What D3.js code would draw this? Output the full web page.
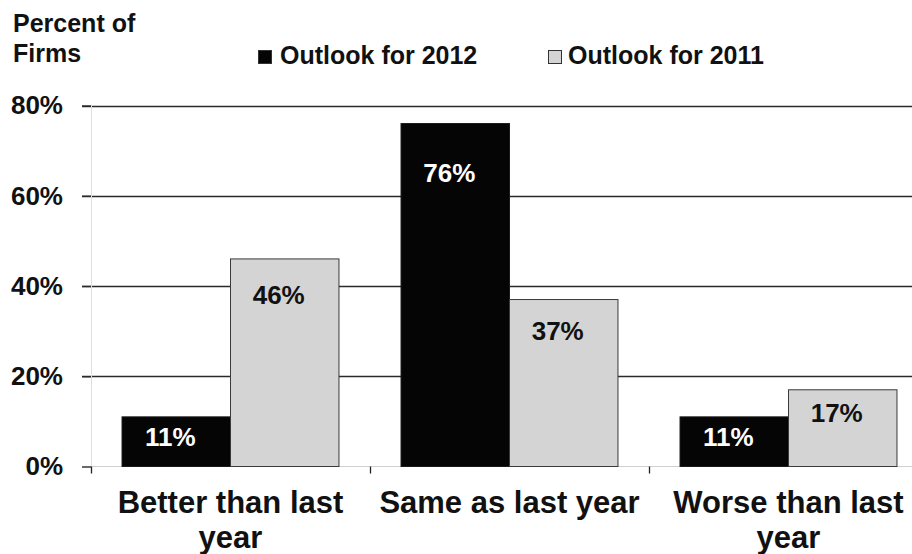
<!DOCTYPE html>
<html>
<head>
<meta charset="utf-8">
<script src="https://cdn.jsdelivr.net/npm/d3@7"></script>
<style>
  html, body { margin: 0; padding: 0; background: #fff; }
  svg { display: block; }
  text { font-family: "Liberation Sans", Arial, sans-serif; font-weight: bold; }
</style>
</head>
<body>
<script>
// ---- data ----
const categories = ["Better than last year", "Same as last year", "Worse than last year"];
const seriesNames = ["Outlook for 2012", "Outlook for 2011"];
const outlook2012 = [11, 76, 11];
const outlook2011 = [46, 37, 17];
const yTicks = [0, 20, 40, 60, 80];
const yAxisTitle = ["Percent of", "Firms"];
const seriesColors = ["#050505", "#d4d4d4"];

const W = 912, H = 554;
const svg = d3.select("body").append("svg").attr("width", W).attr("height", H);

const rows = categories.map((c, i) => ({ cat: c, values: [outlook2012[i], outlook2011[i]] }));

const y = d3.scaleLinear().domain([0, 80]).range([466.5, 105.5]);
const x0 = d3.scaleBand().domain(categories).range([91, 928]).paddingInner(0).paddingOuter(0);
const x1 = d3.scaleBand().domain(seriesNames).range([0, x0.bandwidth()]).paddingInner(0).paddingOuter(0.286);

// gridlines
svg.append("g").selectAll("line").data(yTicks.filter(d => d > 0)).join("line")
  .attr("x1", 82).attr("x2", W)
  .attr("y1", d => Math.round(y(d)) + 0.5).attr("y2", d => Math.round(y(d)) + 0.5)
  .attr("stroke", "#2a2a2a").attr("stroke-width", 1.4);

// y axis line
svg.append("line").attr("x1", 91.5).attr("x2", 91.5).attr("y1", y(80)).attr("y2", y(0))
  .attr("stroke", "#dedede").attr("stroke-width", 1);
// x axis line
svg.append("line").attr("x1", 91).attr("x2", W).attr("y1", y(0)).attr("y2", y(0))
  .attr("stroke", "#d0d0d0").attr("stroke-width", 1.2);

// y axis labels + ticks
const yAxis = d3.axisLeft(y).tickValues(yTicks).tickFormat(d => d + "%").tickSize(9).tickPadding(19);
const yg = svg.append("g").attr("transform", "translate(91,0)").call(yAxis);
yg.select(".domain").remove();
yg.selectAll(".tick line").attr("stroke", "#2a2a2a").attr("stroke-width", 1.4);
yg.selectAll(".tick text").attr("font-size", 26).attr("fill", "#111")
  .style("font-family", "'Liberation Sans', Arial, sans-serif").style("font-weight", "bold");

// x axis ticks
const xAxis = d3.axisBottom(x0).tickSize(0).tickFormat("");
const xg = svg.append("g").attr("transform", `translate(0,${y(0)})`).call(xAxis);
xg.select(".domain").remove();
const bounds = categories.map(c => x0(c));
xg.selectAll("line.cat-tick").data(bounds).join("line").attr("class", "cat-tick")
  .attr("x1", d => d + 0.5).attr("x2", d => d + 0.5).attr("y1", 0).attr("y2", 7)
  .attr("stroke", "#222").attr("stroke-width", 1.3);

// bars
const groups = svg.append("g").selectAll("g").data(rows).join("g")
  .attr("transform", d => `translate(${x0(d.cat)},0)`);
groups.selectAll("rect").data(d => d.values.map((v, i) => ({ v, s: seriesNames[i], i }))).join("rect")
  .attr("x", d => x1(d.s)).attr("width", x1.bandwidth())
  .attr("y", d => y(d.v)).attr("height", d => y(0) - y(d.v))
  .attr("fill", d => seriesColors[d.i])
  .attr("stroke", d => d.i === 0 ? "#1a1a1a" : "#3a3a3a").attr("stroke-width", 1);

// value labels
groups.selectAll("text.val").data(d => d.values.map((v, i) => ({ v, s: seriesNames[i], i }))).join("text")
  .attr("class", "val")
  .attr("x", d => x1(d.s) + x1.bandwidth() / 2 - 6)
  .attr("y", d => y(0.9 * d.v) + 15)
  .attr("dy", "0.35em")
  .attr("text-anchor", "middle")
  .attr("font-size", 26)
  .attr("fill", d => d.i === 0 ? "#fff" : "#111")
  .text(d => d.v + "%");

// category labels (wrapped)
function wrapLines(text, width, size) {
  const words = text.split(" ");
  const tmp = svg.append("text").attr("font-size", size);
  const lines = [];
  let line = [];
  for (const w of words) {
    line.push(w);
    tmp.text(line.join(" "));
    if (tmp.node().getComputedTextLength() > width && line.length > 1) {
      line.pop();
      lines.push(line.join(" "));
      line = [w];
    }
  }
  lines.push(line.join(" "));
  tmp.remove();
  return lines;
}
categories.forEach(c => {
  const lines = wrapLines(c, x0.bandwidth(), 31);
  const t = svg.append("text").attr("text-anchor", "middle").attr("font-size", 31).attr("fill", "#111");
  lines.forEach((l, i) => {
    t.append("tspan").attr("x", x0(c) + x0.bandwidth() / 2).attr("y", 513 + i * 35).text(l);
  });
});

// axis title
const at = svg.append("text").attr("font-size", 25).attr("fill", "#111");
yAxisTitle.forEach((l, i) => at.append("tspan").attr("x", 13).attr("y", 32 + i * 30).text(l));

// legend
const legendX = [258, 548];
const lg = svg.append("g").selectAll("g").data(seriesNames).join("g")
  .attr("transform", (d, i) => `translate(${legendX[i]},50)`);
lg.append("rect").attr("x", 0.5).attr("y", 0.5).attr("width", 13).attr("height", 13)
  .attr("fill", (d, i) => seriesColors[i]).attr("stroke", "#333").attr("stroke-width", 1);
lg.append("text").attr("x", (d, i) => i === 0 ? 22 : 20).attr("y", 14).attr("font-size", 25).attr("fill", "#111")
  .text(d => d);
</script>
</body>
</html>
